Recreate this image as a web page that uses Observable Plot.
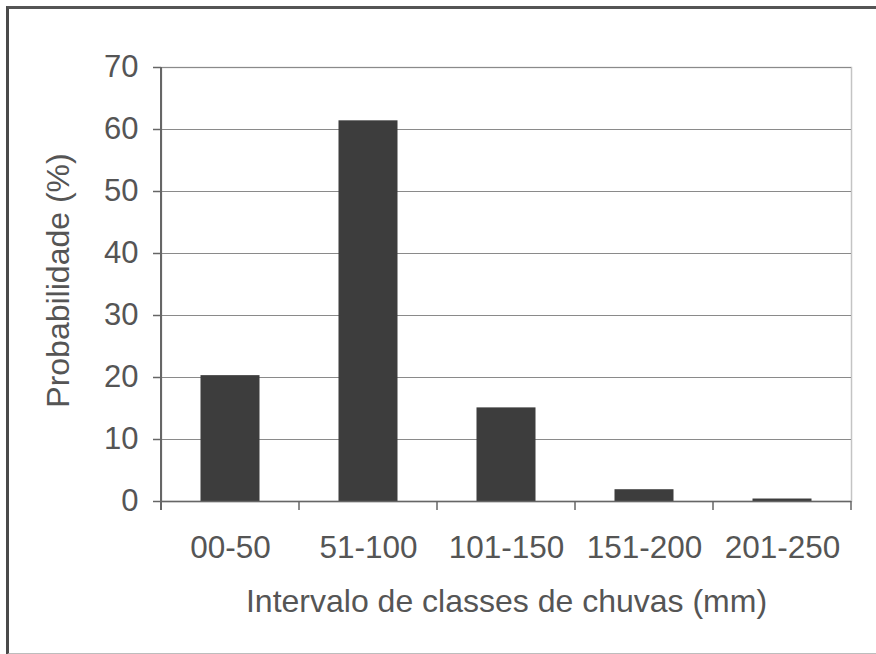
<!DOCTYPE html>
<html>
<head>
<meta charset="utf-8">
<script src="https://cdn.jsdelivr.net/npm/d3@7"></script>
<script src="https://cdn.jsdelivr.net/npm/@observablehq/plot@0.6"></script>
<style>
  html, body { margin: 0; padding: 0; background: #fff; }
  #wrap { position: relative; width: 876px; height: 654px; overflow: hidden; background: #fff; }
  #box { position: absolute; left: 6px; top: 6px; width: 880px; height: 644px;
         border-left: 3px solid #4a4a4a; border-top: 3px solid #555; border-bottom: 2px solid #bdbdbd; }
  #chart { position: absolute; left: 0; top: 0; }
</style>
</head>
<body>
<div id="wrap"><div id="box"></div><div id="chart"></div></div>
<script>
const categories = ["00-50", "51-100", "101-150", "151-200", "201-250"];
const probabilities = [20.3, 61.4, 15.1, 1.9, 0.4];
const yTicks = [0, 10, 20, 30, 40, 50, 60, 70];
const xTitle = "Intervalo de classes de chuvas (mm)";
const yTitle = "Probabilidade (%)";

const data = categories.map((c, i) => ({category: c, value: probabilities[i]}));

// left spine and boundary ticks between categories, positioned through the scales
function axisLines(index, scales, values, dimensions) {
  const x = scales.x, y = scales.y;
  const bw = x.bandwidth ? x.bandwidth() : 0;
  const pos = categories.map(c => x(c)).concat([x(categories[categories.length - 1]) + bw]);
  const y0 = y(0);
  const g = d3.create("svg:g");
  g.selectAll("line.t").data(pos).join("line")
    .attr("x1", d => d).attr("x2", d => d)
    .attr("y1", y0).attr("y2", y0 + 9)
    .attr("stroke", "#666").attr("stroke-width", 1.5);
  g.append("line")
    .attr("x1", pos[0]).attr("x2", pos[0])
    .attr("y1", y(yTicks[yTicks.length - 1])).attr("y2", y0 + 9)
    .attr("stroke", "#666").attr("stroke-width", 2);
  return g.node();
}

const chart = Plot.plot({
  width: 876,
  height: 654,
  marginLeft: 161,
  marginRight: 25,
  marginTop: 67,
  marginBottom: 153,
  style: {fontFamily: "'Liberation Sans', Arial, sans-serif", fontSize: "31px", color: "#555", background: "transparent"},
  x: {domain: categories, padding: 0, label: null},
  y: {domain: [0, 70], label: null},
  marks: [
    Plot.frame({stroke: "#c4c4c4", strokeWidth: 1.5}),
    Plot.gridY(yTicks, {stroke: "#8a8a8a", strokeOpacity: 1, strokeWidth: 1}),
    Plot.barY(data, {x: "category", y: "value", fill: "#3d3d3d", insetLeft: 39.5, insetRight: 39.5}),
    Plot.ruleY([0], {stroke: "#666", strokeWidth: 1.5}),
    Plot.axisY(yTicks, {tickSize: 8, tickPadding: 15, stroke: "#666", strokeWidth: 1.5, fill: "#555", fontSize: 31, label: null}),
    Plot.axisX({tickSize: 0, tickPadding: 34, fill: "#555", fontSize: 31.5, label: null}),
    Plot.text([yTitle], {frameAnchor: "left", textAnchor: "middle", rotate: -90, dx: -103, dy: -4, fill: "#555", fontSize: 32}),
    Plot.text([xTitle], {frameAnchor: "bottom", dy: 110, fill: "#555", fontSize: 32}),
    axisLines
  ]
});
document.getElementById("chart").appendChild(chart);
</script>
</body>
</html>
